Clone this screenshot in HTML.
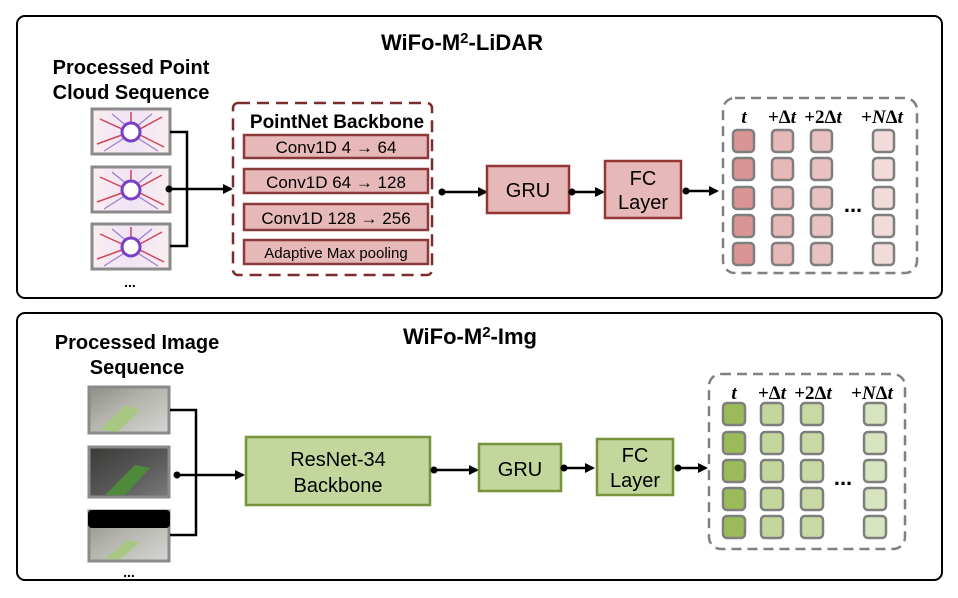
<!DOCTYPE html>
<html><head><meta charset="utf-8"><style>
html,body{margin:0;padding:0;background:#fff;}
svg{display:block;font-family:"Liberation Sans",Arial,sans-serif;}
</style></head><body>
<svg width="958" height="598" viewBox="0 0 958 598" xmlns="http://www.w3.org/2000/svg">
<defs>
<marker id="ah" markerWidth="10" markerHeight="10" refX="8" refY="5" orient="auto" markerUnits="userSpaceOnUse">
<path d="M0,0 L10,5 L0,10 z" fill="#000"/></marker>
<linearGradient id="lid" x1="0" y1="0" x2="1" y2="0">
<stop offset="0" stop-color="#fbeef0"/><stop offset="0.5" stop-color="#efe4f5"/><stop offset="1" stop-color="#fbeef0"/></linearGradient>
<linearGradient id="img1" x1="0" y1="0" x2="1" y2="1">
<stop offset="0" stop-color="#8e8e8a"/><stop offset="0.45" stop-color="#b5b5ae"/><stop offset="1" stop-color="#d5d5d3"/></linearGradient>
<linearGradient id="img2" x1="0" y1="0" x2="1" y2="1">
<stop offset="0" stop-color="#3a3a38"/><stop offset="0.5" stop-color="#555"/><stop offset="1" stop-color="#7a7a7a"/></linearGradient>
<g id="lidar">
<rect x="0" y="0" width="78" height="45" fill="url(#lid)" stroke="#8a8a8a" stroke-width="3"/>
<path d="M8,10 L30,20 M70,8 L48,20 M5,35 L30,26 M72,38 L48,26 M39,3 L39,14" stroke="#d0455a" stroke-width="1.5"/>
<path d="M20,5 L36,18 M60,5 L44,18 M12,42 L34,28 M66,42 L44,28" stroke="#a07bcf" stroke-width="1.2"/>
<circle cx="39" cy="23" r="9" fill="#fff" stroke="#7a3fc7" stroke-width="3"/>
</g>
</defs>

<!-- Top panel -->
<rect x="17" y="16" width="925" height="282" rx="8" fill="#fff" stroke="#000" stroke-width="2"/>
<text x="462" y="50" font-size="22" font-weight="bold" text-anchor="middle">WiFo-M<tspan font-size="15" dy="-7">2</tspan><tspan dy="7">-LiDAR</tspan></text>
<text x="131" y="74" font-size="20" font-weight="bold" text-anchor="middle">Processed Point</text>
<text x="131" y="99" font-size="20" font-weight="bold" text-anchor="middle">Cloud Sequence</text>
<use href="#lidar" x="92" y="109"/>
<use href="#lidar" x="92" y="167"/>
<use href="#lidar" x="92" y="224"/>
<text x="130" y="287" font-size="14" font-weight="bold" text-anchor="middle">...</text>
<polyline points="170,132 187,132 187,246 170,246" fill="none" stroke="#000" stroke-width="2.5"/>
<circle cx="169" cy="189" r="3.5" fill="#000"/>
<line x1="169" y1="189" x2="231" y2="189" stroke="#000" stroke-width="2.5" marker-end="url(#ah)"/>

<rect x="233" y="103" width="199" height="172" rx="5" fill="#fff" stroke="#7b2c2c" stroke-width="2.5" stroke-dasharray="12,7"/>
<text x="337" y="128" font-size="19" font-weight="bold" text-anchor="middle">PointNet Backbone</text>
<g fill="#e6b8b7" stroke="#8b3a3a" stroke-width="2.5">
<rect x="244" y="135" width="184" height="23"/>
<rect x="244" y="169" width="184" height="24"/>
<rect x="244" y="204" width="184" height="26"/>
<rect x="244" y="240" width="184" height="24"/>
</g>
<g font-size="17" text-anchor="middle">
<text x="336" y="153">Conv1D 4 → 64</text>
<text x="336" y="188">Conv1D 64 → 128</text>
<text x="336" y="224">Conv1D 128 → 256</text>
<text x="336" y="258" font-size="15">Adaptive Max pooling</text>
</g>
<circle cx="442" cy="192" r="3.5" fill="#000"/>
<line x1="442" y1="192" x2="486" y2="192" stroke="#000" stroke-width="2.5" marker-end="url(#ah)"/>
<rect x="487" y="166" width="82" height="47" fill="#e6b8b7" stroke="#943634" stroke-width="2.5"/>
<text x="528" y="197" font-size="20" text-anchor="middle">GRU</text>
<circle cx="572" cy="192" r="3.5" fill="#000"/>
<line x1="572" y1="192" x2="603" y2="192" stroke="#000" stroke-width="2.5" marker-end="url(#ah)"/>
<rect x="605" y="161" width="76" height="57" fill="#e6b8b7" stroke="#943634" stroke-width="2.5"/>
<text x="643" y="185" font-size="20" text-anchor="middle">FC</text>
<text x="643" y="209" font-size="20" text-anchor="middle">Layer</text>
<circle cx="686" cy="191" r="3.5" fill="#000"/>
<line x1="686" y1="191" x2="717" y2="191" stroke="#000" stroke-width="2.5" marker-end="url(#ah)"/>

<rect x="723" y="98" width="194" height="175" rx="12" fill="#fff" stroke="#808080" stroke-width="2.5" stroke-dasharray="10,6"/>
<g font-family="Liberation Serif,serif" font-weight="bold" font-size="19" text-anchor="middle">
<text x="744" y="123" font-style="italic">t</text>
<text x="782" y="123">+Δ<tspan font-style="italic">t</tspan></text>
<text x="823" y="123">+2Δ<tspan font-style="italic">t</tspan></text>
<text x="882" y="123">+<tspan font-style="italic">N</tspan>Δ<tspan font-style="italic">t</tspan></text>
</g>
<g stroke="#7f7f7f" stroke-width="2.5">
<g fill="#d99594"><rect x="733" y="130" width="21" height="22" rx="4"/><rect x="733" y="158" width="21" height="22" rx="4"/><rect x="733" y="187" width="21" height="22" rx="4"/><rect x="733" y="215" width="21" height="22" rx="4"/><rect x="733" y="243" width="21" height="22" rx="4"/></g>
<g fill="#e6b8b7"><rect x="772" y="130" width="21" height="22" rx="4"/><rect x="772" y="158" width="21" height="22" rx="4"/><rect x="772" y="187" width="21" height="22" rx="4"/><rect x="772" y="215" width="21" height="22" rx="4"/><rect x="772" y="243" width="21" height="22" rx="4"/></g>
<g fill="#e8c1c0"><rect x="811" y="130" width="21" height="22" rx="4"/><rect x="811" y="158" width="21" height="22" rx="4"/><rect x="811" y="187" width="21" height="22" rx="4"/><rect x="811" y="215" width="21" height="22" rx="4"/><rect x="811" y="243" width="21" height="22" rx="4"/></g>
<g fill="#f2dcdb"><rect x="873" y="130" width="21" height="22" rx="4"/><rect x="873" y="158" width="21" height="22" rx="4"/><rect x="873" y="187" width="21" height="22" rx="4"/><rect x="873" y="215" width="21" height="22" rx="4"/><rect x="873" y="243" width="21" height="22" rx="4"/></g>
</g>
<text x="853" y="212" font-size="22" font-weight="bold" text-anchor="middle">...</text>

<!-- Bottom panel -->
<rect x="17" y="313" width="925" height="267" rx="8" fill="#fff" stroke="#000" stroke-width="2"/>
<text x="470" y="344" font-size="22" font-weight="bold" text-anchor="middle">WiFo-M<tspan font-size="15" dy="-7">2</tspan><tspan dy="7">-Img</tspan></text>
<text x="137" y="349" font-size="20" font-weight="bold" text-anchor="middle">Processed Image</text>
<text x="137" y="374" font-size="20" font-weight="bold" text-anchor="middle">Sequence</text>
<g stroke="#8a8a8a" stroke-width="3">
<rect x="89" y="387" width="80" height="46" fill="url(#img1)"/>
<rect x="89" y="447" width="80" height="50" fill="url(#img2)"/>
<rect x="89" y="511" width="80" height="50" fill="url(#img1)"/>
</g>
<path d="M100,430 L125,405 L140,410 L118,432 z" fill="#a7c783"/>
<path d="M105,495 L135,465 L150,468 L125,495 z" fill="#4f8a3a"/>
<path d="M105,559 L128,540 L140,542 L120,559 z" fill="#a7c783"/>
<rect x="88" y="510" width="82" height="18" rx="4" fill="#000"/>
<text x="129" y="577" font-size="14" font-weight="bold" text-anchor="middle">...</text>
<polyline points="170,410 196,410 196,535 170,535" fill="none" stroke="#000" stroke-width="2.5"/>
<circle cx="177" cy="475" r="3.5" fill="#000"/>
<line x1="177" y1="475" x2="243" y2="475" stroke="#000" stroke-width="2.5" marker-end="url(#ah)"/>
<rect x="246" y="437" width="184" height="68" fill="#c3d69b" stroke="#77933c" stroke-width="2.5"/>
<text x="338" y="466" font-size="20" text-anchor="middle">ResNet-34</text>
<text x="338" y="492" font-size="20" text-anchor="middle">Backbone</text>
<circle cx="434" cy="470" r="3.5" fill="#000"/>
<line x1="434" y1="470" x2="477" y2="470" stroke="#000" stroke-width="2.5" marker-end="url(#ah)"/>
<rect x="479" y="444" width="82" height="47" fill="#c3d69b" stroke="#77933c" stroke-width="2.5"/>
<text x="520" y="476" font-size="20" text-anchor="middle">GRU</text>
<circle cx="564" cy="468" r="3.5" fill="#000"/>
<line x1="564" y1="468" x2="593" y2="468" stroke="#000" stroke-width="2.5" marker-end="url(#ah)"/>
<rect x="597" y="439" width="76" height="56" fill="#c3d69b" stroke="#77933c" stroke-width="2.5"/>
<text x="635" y="462" font-size="20" text-anchor="middle">FC</text>
<text x="635" y="487" font-size="20" text-anchor="middle">Layer</text>
<circle cx="678" cy="468" r="3.5" fill="#000"/>
<line x1="678" y1="468" x2="706" y2="468" stroke="#000" stroke-width="2.5" marker-end="url(#ah)"/>

<rect x="709" y="374" width="196" height="175" rx="12" fill="#fff" stroke="#808080" stroke-width="2.5" stroke-dasharray="10,6"/>
<g font-family="Liberation Serif,serif" font-weight="bold" font-size="19" text-anchor="middle">
<text x="734" y="399" font-style="italic">t</text>
<text x="772" y="399">+Δ<tspan font-style="italic">t</tspan></text>
<text x="813" y="399">+2Δ<tspan font-style="italic">t</tspan></text>
<text x="872" y="399">+<tspan font-style="italic">N</tspan>Δ<tspan font-style="italic">t</tspan></text>
</g>
<g stroke="#7f7f7f" stroke-width="2.5">
<g fill="#9bbb59"><rect x="723" y="403" width="22" height="22" rx="4"/><rect x="723" y="432" width="22" height="22" rx="4"/><rect x="723" y="460" width="22" height="22" rx="4"/><rect x="723" y="488" width="22" height="22" rx="4"/><rect x="723" y="516" width="22" height="22" rx="4"/></g>
<g fill="#c3d69b"><rect x="761" y="403" width="22" height="22" rx="4"/><rect x="761" y="432" width="22" height="22" rx="4"/><rect x="761" y="460" width="22" height="22" rx="4"/><rect x="761" y="488" width="22" height="22" rx="4"/><rect x="761" y="516" width="22" height="22" rx="4"/></g>
<g fill="#c8d9a4"><rect x="801" y="403" width="22" height="22" rx="4"/><rect x="801" y="432" width="22" height="22" rx="4"/><rect x="801" y="460" width="22" height="22" rx="4"/><rect x="801" y="488" width="22" height="22" rx="4"/><rect x="801" y="516" width="22" height="22" rx="4"/></g>
<g fill="#d7e4bd"><rect x="864" y="403" width="22" height="22" rx="4"/><rect x="864" y="432" width="22" height="22" rx="4"/><rect x="864" y="460" width="22" height="22" rx="4"/><rect x="864" y="488" width="22" height="22" rx="4"/><rect x="864" y="516" width="22" height="22" rx="4"/></g>
</g>
<text x="843" y="485" font-size="22" font-weight="bold" text-anchor="middle">...</text>
</svg>
</body></html>
